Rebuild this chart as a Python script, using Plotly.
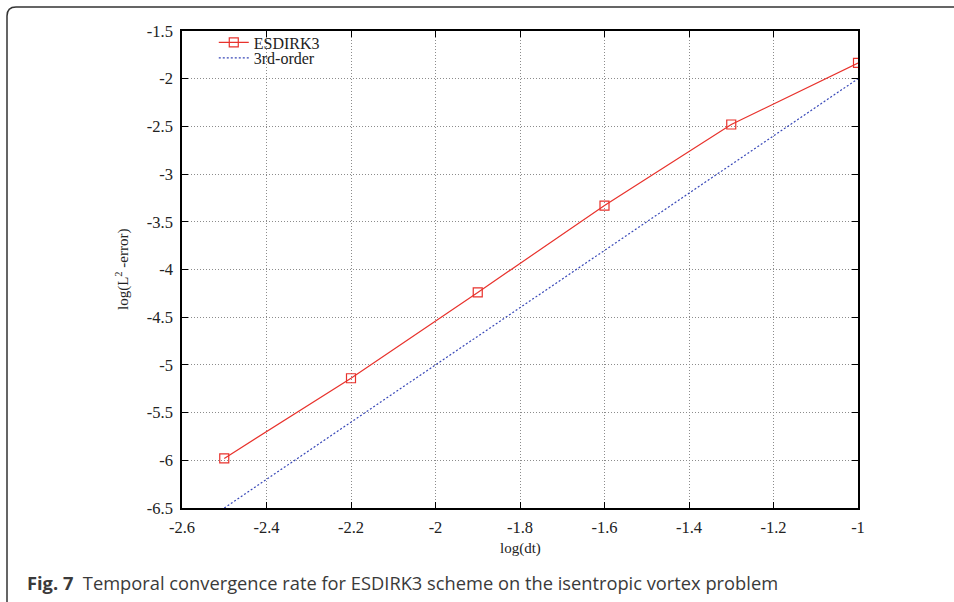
import plotly.graph_objects as go

# Temporal convergence data (log10 of time step vs log10 of L2 error)
log_dt = [-2.5, -2.2, -1.9, -1.6, -1.3, -1.0]
esdirk3_err = [-5.98, -5.14, -4.24, -3.33, -2.48, -1.835]

# Reference slope-3 line
ref_dt = [-2.5, -1.0]
ref_err = [-6.5, -2.0]

x_ticks = [-2.6, -2.4, -2.2, -2.0, -1.8, -1.6, -1.4, -1.2, -1.0]
x_tick_text = ["-2.6", "-2.4", "-2.2", "-2", "-1.8", "-1.6", "-1.4", "-1.2", "-1"]
y_ticks = [-6.5, -6, -5.5, -5, -4.5, -4, -3.5, -3, -2.5, -2, -1.5]
y_tick_text = ["-6.5", "-6", "-5.5", "-5", "-4.5", "-4", "-3.5", "-3", "-2.5", "-2", "-1.5"]

SERIF = "Liberation Serif"
TEXT = "#222"

fig = go.Figure()
fig.add_trace(go.Scatter(
    x=log_dt, y=esdirk3_err, name="ESDIRK3", mode="lines+markers",
    line=dict(color="#e8322c", width=1.2),
    marker=dict(symbol="square-open", size=9, color="#e8322c", line=dict(width=1.2)),
    legend="legend",
))
fig.add_trace(go.Scatter(
    x=ref_dt, y=ref_err, name="3rd-order", mode="lines",
    line=dict(color="#3848b8", width=1.2, dash="2px,2px"),
    legend="legend2",
))

axis_common = dict(
    showline=True, linecolor="black", linewidth=1.5, mirror="ticks",
    ticks="inside", ticklen=6, tickcolor="black",
    showgrid=True, gridcolor="#8c8c8c", griddash="1px,2px", gridwidth=1,
    zeroline=False, tickfont=dict(family=SERIF, size=16.5, color=TEXT),
)

fig.update_xaxes(range=[-2.6, -1.0], tickvals=x_ticks, ticktext=x_tick_text,
                 ticklabelstandoff=3, **axis_common)
fig.update_yaxes(range=[-6.5, -1.5], tickvals=y_ticks, ticktext=y_tick_text,
                 ticklabelstandoff=4, **axis_common)

# Axis titles
fig.add_annotation(text="log(dt)", xref="paper", yref="paper", x=0.5, y=-0.084,
                   showarrow=False, font=dict(family=SERIF, size=15, color=TEXT),
                   xanchor="center", yanchor="middle")
fig.add_annotation(text="log(L<sup>2</sup> -error)", xref="paper", yref="paper",
                   x=-0.088, y=0.5, textangle=-90, showarrow=False,
                   font=dict(family=SERIF, size=15, color=TEXT),
                   xanchor="center", yanchor="middle")

# Figure caption
fig.add_annotation(
    text="<b>Fig. 7</b>  Temporal convergence rate for ESDIRK3 scheme on the isentropic vortex problem",
    xref="paper", yref="paper", x=-0.2322, y=-0.157, xanchor="left", yanchor="middle",
    showarrow=False, font=dict(family="Open Sans", size=18.3, color="#3a3a3a"),
)

# Rounded outer frame around the figure
W, H = 676.0, 477.0
L = (7 - 182) / W
T = (508 - 7) / H
R = (975 - 182) / W
B = (508 - 625) / H
rx, ry = 9 / W, 9 / H
fig.add_shape(
    type="path", xref="paper", yref="paper",
    path=f"M {L},{B} L {L},{T - ry} Q {L},{T} {L + rx},{T} L {R},{T}",
    line=dict(color="#333", width=1.5),
)

legend_style = dict(xanchor="left", yanchor="top", bgcolor="rgba(0,0,0,0)",
                    font=dict(family=SERIF, size=16, color=TEXT))
fig.update_layout(
    width=954, height=602,
    margin=dict(l=182, r=96, t=31, b=94),
    paper_bgcolor="white", plot_bgcolor="white",
    showlegend=True,
    legend=dict(x=0.047, y=1.0115, **legend_style),
    legend2=dict(x=0.047, y=0.979, **legend_style),
)

fig.write_html("out.html")
